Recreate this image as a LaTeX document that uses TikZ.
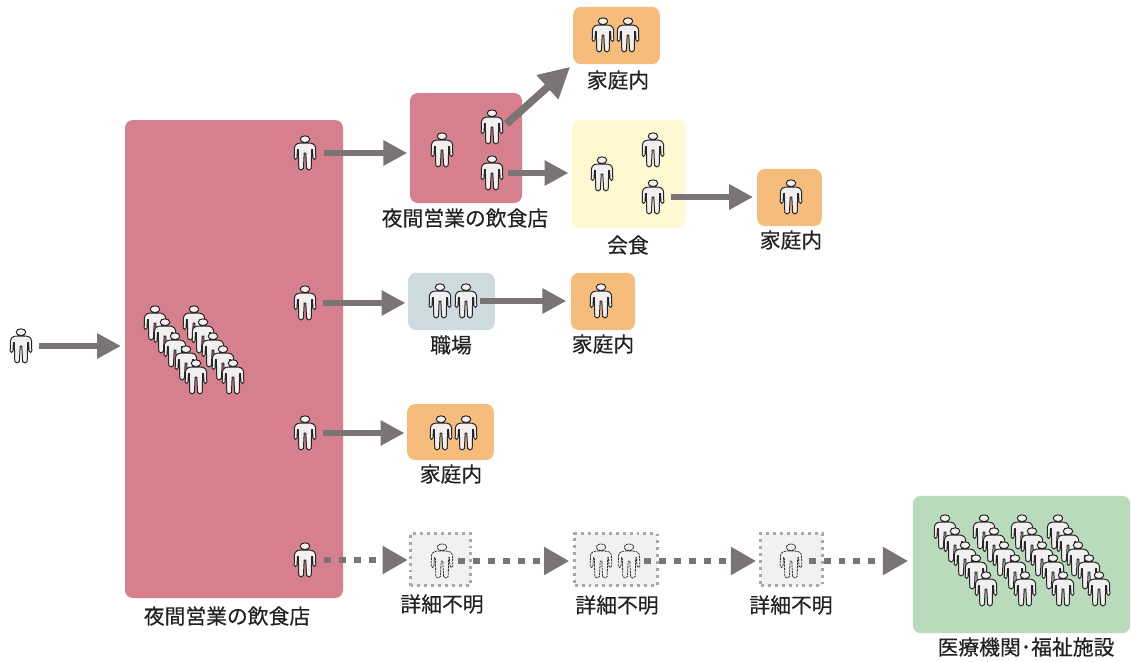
\documentclass[tikz,border=0pt]{standalone}
\usepackage{fontspec}
\setmainfont{Noto Sans CJK JP}[FakeBold=0.35]
\usetikzlibrary{arrows.meta,calc}
\definecolor{cpink}{HTML}{D67F8D}
\definecolor{corange}{HTML}{F6BC7C}
\definecolor{cyellow}{HTML}{FFF9D2}
\definecolor{cblue}{HTML}{CDDBE1}
\definecolor{cgreen}{HTML}{B9DBBB}
\definecolor{cgrey}{HTML}{F1F1F1}
\definecolor{cdot}{HTML}{A8A8A8}
\definecolor{carrow}{HTML}{7A7474}
\definecolor{cbody}{HTML}{F1EFEF}
\definecolor{ctext}{HTML}{222222}
\newcommand{\manpath}{
  (-3,-10) -- (3,-10) .. controls (7,-10) and (10,-9) .. (10.5,-5.5)
  -- (10.8,5) .. controls (10.5,7) and (8.5,7) .. (8,5) -- (7.5,-3.5) -- (6.7,-3.5)
  -- (6.2,15.5) .. controls (5.8,17.5) and (2,17.5) .. (1.6,15.5) -- (0.8,0) -- (-0.8,0) -- (-1.6,15.5)
  .. controls (-2,17.5) and (-5.8,17.5) .. (-6.2,15.5) -- (-6.7,-3.5) -- (-7.5,-3.5) -- (-8,5)
  .. controls (-8.5,7) and (-10.5,7) .. (-10.8,5) -- (-10.5,-5.5)
  .. controls (-10,-9) and (-7,-10) .. (-3,-10) -- cycle
  (0,-13.8) ellipse [x radius=4.8, y radius=3.4]
}
\tikzset{
  x=0.75pt,y=-0.75pt,
  panel/.style={rectangle,rounded corners=6pt,inner sep=0pt,outer sep=0pt},
  dotbox/.style={rectangle,fill=cgrey,draw=cdot,line width=2.2pt,dash pattern=on 2.2pt off 3pt,inner sep=0pt,outer sep=0pt},
  lab/.style={font=\fontsize{15.6}{18}\selectfont,text=ctext,inner sep=0pt},
  fat/.style={draw=carrow,line width=4.9pt,-{Triangle[length=18pt,width=18pt]}},
  bigfat/.style={draw=carrow,line width=5.6pt,-{Triangle[length=23pt,width=23pt]}},
  dots/.style={draw=carrow,line width=5.2pt,dash pattern=on 5.2pt off 6pt,-{Triangle[length=19pt,width=20pt]}},
  pics/man/.style={code={
    \node[inner sep=0pt,outer sep=0pt,minimum width=16.5pt,minimum height=27pt] (-n) at (0,0) {};
    \draw[fill=cbody,draw=black!85,line width=0.75pt,line join=round] \manpath;
  }},
  pics/ghost/.style={code={
    \node[inner sep=0pt,outer sep=0pt,minimum width=16.5pt,minimum height=27pt] (-n) at (0,0) {};
    \draw[draw=black!80,line width=0.6pt,dash pattern=on 1.8pt off 0.6pt,line join=round] \manpath;
  }},
}
\begin{document}
\begin{tikzpicture}
\useasboundingbox[fill=white] (0,0) rectangle (1131,661);
% panels
\node[panel,fill=cpink,minimum width=163.5pt,minimum height=358.5pt] (bar) at (234,359) {};
\node[panel,fill=cpink,minimum width=84pt,minimum height=82.5pt] (bar2) at (466,148) {};
\node[panel,fill=corange,minimum width=65pt,minimum height=43pt] (home1) at (616.5,35.5) {};
\node[panel,fill=cyellow,minimum width=85pt,minimum height=81pt] (meal) at (628.5,174) {};
\node[panel,fill=corange,minimum width=48.5pt,minimum height=43pt] (home2) at (789.5,197.5) {};
\node[panel,fill=cblue,minimum width=65pt,minimum height=43pt] (work) at (451.5,301.5) {};
\node[panel,fill=corange,minimum width=48pt,minimum height=43pt] (home3) at (603,301.5) {};
\node[panel,fill=corange,minimum width=65pt,minimum height=42pt] (home4) at (450.5,432) {};
\node[dotbox,minimum width=45pt,minimum height=39pt] (un1) at (440.5,559.5) {};
\node[dotbox,minimum width=62pt,minimum height=39pt] (un2) at (616,559.5) {};
\node[dotbox,minimum width=46pt,minimum height=39pt] (un3) at (791.5,559.5) {};
\node[panel,fill=cgreen,minimum width=163pt,minimum height=103pt] (care) at (1021.5,564.5) {};
% people
\pic (entry) at (21,346) {man};
\pic (a1) at (305,153) {man};
\pic (a2) at (305,303) {man};
\pic (a3) at (305,433) {man};
\pic (a4) at (305,560) {man};
\foreach \px/\py in {155/323,165/336,175/350,186/363,196/377,194/323,203/336,213/350,223/363,233/377}
  \pic at (\px,\py) {man};
\pic (b1) at (442,150) {man};
\pic (b2) at (492,127) {man};
\pic (b3) at (492,173) {man};
\pic at (603,35) {man};
\pic at (628,35) {man};
\pic at (602,174) {man};
\pic at (653,150) {man};
\pic (c1) at (653,197) {man};
\pic at (791,197) {man};
\pic at (440,301) {man};
\pic (d1) at (466,301) {man};
\pic at (601,301) {man};
\pic at (441,433) {man};
\pic at (466,433) {man};
\pic (g1) at (442,561) {ghost};
\pic at (601,561) {ghost};
\pic (g2) at (629,561) {ghost};
\pic (g3) at (791,561) {ghost};
\foreach \px in {945,984,1022,1058}
  \foreach \dx/\py in {0/532,10/545,20/559,31/572,41/589}
    \pic at ({\px+\dx},\py) {man};
% labels
\node[lab] (l1) at (465,218) {夜間営業の飲食店};
\node[lab] (l2) at (618,80) {家庭内};
\node[lab] (l3) at (628,245) {会食};
\node[lab] (l4) at (791,240) {家庭内};
\node[lab] (l5) at (451,345) {職場};
\node[lab] (l6) at (603,344) {家庭内};
\node[lab] (l7) at (451,474) {家庭内};
\node[lab] (l8) at (227,616) {夜間営業の飲食店};
\node[lab] (l9) at (442,604) {詳細不明};
\node[lab] (l10) at (617,605) {詳細不明};
\node[lab] (l11) at (791,605) {詳細不明};
\node[lab] (l12) at (1026,647) {医療機関･福祉施設};
% connectors
\draw[fat,shorten <=5pt,shorten >=3pt] (entry-n.east) -- (entry-n.east -| bar.west);
\draw[fat,shorten <=6pt,shorten >=2pt] (a1-n.east) -- (a1-n.east -| bar2.west);
\draw[fat,shorten <=5pt,shorten >=2pt] (a2-n.east) -- (a2-n.east -| work.west);
\draw[fat,shorten <=5pt,shorten >=2pt] (a3-n.east) -- (a3-n.east -| home4.west);
\draw[bigfat,shorten <=3.5pt,shorten >=3pt] (b2-n.east) -- (home1.south west);
\draw[fat,shorten <=4pt,shorten >=2.5pt] (b3-n.east) -- (b3-n.east -| meal.west);
\draw[fat,shorten <=5pt,shorten >=3pt] (c1-n.east) -- (c1-n.east -| home2.west);
\draw[fat,shorten <=2pt,shorten >=3.5pt] (d1-n.east) -- (d1-n.east -| home3.west);
\draw[dots,shorten <=6pt,shorten >=2pt] (a4-n.east) -- (a4-n.east -| un1.west);
\draw[dots,shorten <=4pt,shorten >=4pt] (g1-n.east) -- (g1-n.east -| un2.west);
\draw[dots,shorten <=3pt,shorten >=3.5pt] (g2-n.east) -- (g2-n.east -| un3.west);
\draw[dots,shorten <=5pt,shorten >=3.5pt] (g3-n.east) -- (g3-n.east -| care.west);
\end{tikzpicture}
\end{document}
